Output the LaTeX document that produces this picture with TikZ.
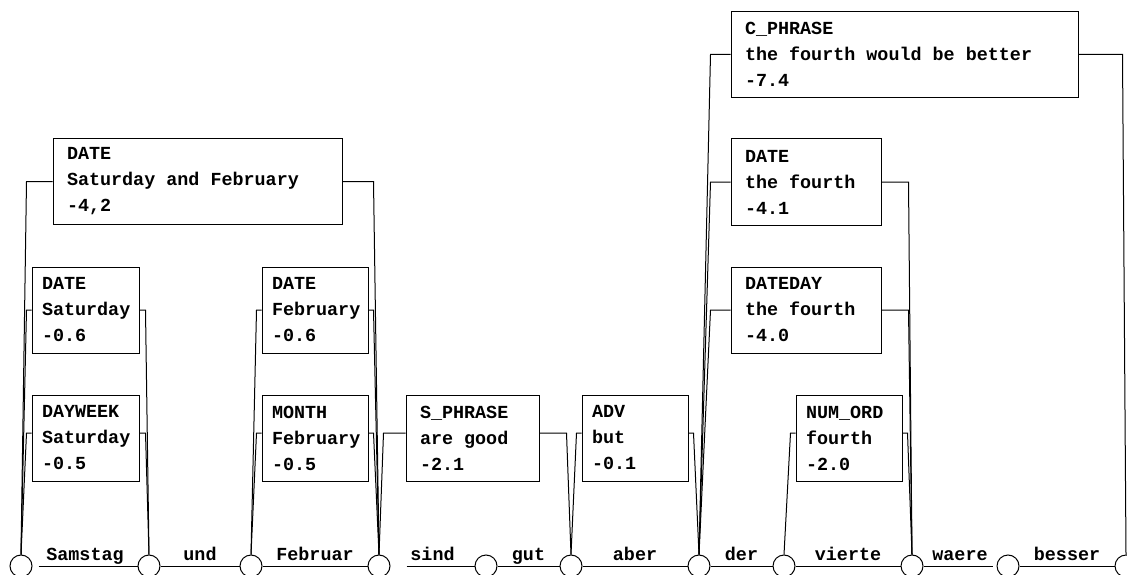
\documentclass[tikz,border=0pt]{standalone}
\usepackage{fontspec}
\setmonofont{Liberation Mono}
\usepackage{tikz}
\hfuzz=3pt

\begin{document}
\begin{tikzpicture}[
    x=1pt, y=-1pt,
    every node/.style={font=\fontsize{18.4}{26}\selectfont\ttfamily\bfseries},
    tag/.style={draw, line width=1pt, align=flush left, inner xsep=10pt, inner ysep=0pt, minimum height=86pt, fill=white},
    wide/.style={tag, inner xsep=14pt},
    tok/.style={draw, circle, line width=1pt, minimum size=22pt, inner sep=0pt},
    link/.style={line width=1pt},
    word/.style={midway, anchor=base, yshift=6pt},
]
    \useasboundingbox (0,0) rectangle (1127,575);

    % word boundaries
    \node[tok] (c0) at (21,566) {};
    \node[tok] (c1) at (149,566) {};
    \node[tok] (c2) at (251,566) {};
    \node[tok] (c3) at (379,566) {};
    \node[tok] (c4) at (486,566) {};
    \node[tok] (c5) at (571,566) {};
    \node[tok] (c6) at (699,566) {};
    \node[tok] (c7) at (784,566) {};
    \node[tok] (c8) at (912,566) {};
    \node[tok] (c9) at (1008,566) {};
    \node[tok] (c10) at (1126,566) {};

    \draw[link, shorten <=6pt] (c0) -- node[word] {Samstag} (c1);
    \draw[link] (c1) -- node[word] {und} (c2);
    \draw[link] (c2) -- node[word] {Februar} (c3);
    \draw[link, shorten <=16pt] (c3) -- node[word] {sind} (c4);
    \draw[link] (c4) -- node[word] {gut} (c5);
    \draw[link] (c5) -- node[word] {aber} (c6);
    \draw[link] (c6) -- node[word] {der} (c7);
    \draw[link] (c7) -- node[word] {vierte} (c8);
    \draw[link, shorten >=4pt] (c8) -- node[word] {waere} (c9);
    \draw[link] (c9) -- node[word] {besser} (c10);

    % phrases
    \node[wide, text width=261pt] (datesf) at (197.5,181.5) {DATE\\Saturday and February\\-4,2};
    \node[tag, text width=87pt] (datesat) at (85.5,310) {DATE\\Saturday\\-0.6};
    \node[tag, text width=87pt] (dayweek) at (85.5,438) {DAYWEEK\\Saturday\\-0.5};
    \node[tag, text width=86pt] (datefeb) at (315,310) {DATE\\February\\-0.6};
    \node[tag, text width=86pt] (month) at (315,438) {MONTH\\February\\-0.5};
    \node[wide, text width=105pt] (sphrase) at (472.5,438) {S\_PHRASE\\are good\\-2.1};
    \node[tag, text width=86pt] (adv) at (635,438) {ADV\\but\\-0.1};
    \node[wide, text width=319pt] (cphrase) at (904.5,54.5) {C\_PHRASE\\the fourth would be better\\-7.4};
    \node[wide, text width=122pt] (datefourth) at (806,182) {DATE\\the fourth\\-4.1};
    \node[wide, text width=122pt] (dateday) at (806,310) {DATEDAY\\the fourth\\-4.0};
    \node[tag, text width=86pt] (numord) at (849,438) {NUM\_ORD\\fourth\\-2.0};

    \draw[link] (datesf.west) -- ++(-26,0) -- (c0.north);
    \draw[link] (datesf.east) -- ++(31,0) -- (c3.north);
    \draw[link] (datesat.west) -- ++(-5,0) -- (c0.north);
    \draw[link] (datesat.east) -- ++(6,0) -- (c1.north);
    \draw[link] ([yshift=5pt]dayweek.west) -- ++(-5,0) -- (c0.north);
    \draw[link] ([yshift=5pt]dayweek.east) -- ++(6,0) -- (c1.north);
    \draw[link] (datefeb.west) -- ++(-5,0) -- (c2.north);
    \draw[link] (datefeb.east) -- ++(5,0) -- (c3.north);
    \draw[link] ([yshift=5pt]month.west) -- ++(-5,0) -- (c2.north);
    \draw[link] ([yshift=5pt]month.east) -- ++(5,0) -- (c3.north);
    \draw[link] ([yshift=5pt]sphrase.west) -- ++(-22,0) -- (c3.north);
    \draw[link] ([yshift=5pt]sphrase.east) -- ++(27,0) -- (c5.north);
    \draw[link] ([yshift=5pt]adv.west) -- ++(-5,0) -- (c5.north);
    \draw[link] ([yshift=5pt]adv.east) -- ++(5,0) -- (c6.north);
    \draw[link] (cphrase.west) -- ++(-20,0) -- (c6.north);
    \draw[link] (cphrase.east) -- ++(44,0) -- (c10.north);
    \draw[link] (datefourth.west) -- ++(-20,0) -- (c6.north);
    \draw[link] (datefourth.east) -- ++(27,0) -- (c8.north);
    \draw[link] (dateday.west) -- ++(-20,0) -- (c6.north);
    \draw[link] (dateday.east) -- ++(27,0) -- (c8.north);
    \draw[link] ([yshift=5pt]numord.west) -- ++(-5,0) -- (c7.north);
    \draw[link] ([yshift=5pt]numord.east) -- ++(5,0) -- (c8.north);
\end{tikzpicture}
\end{document}
